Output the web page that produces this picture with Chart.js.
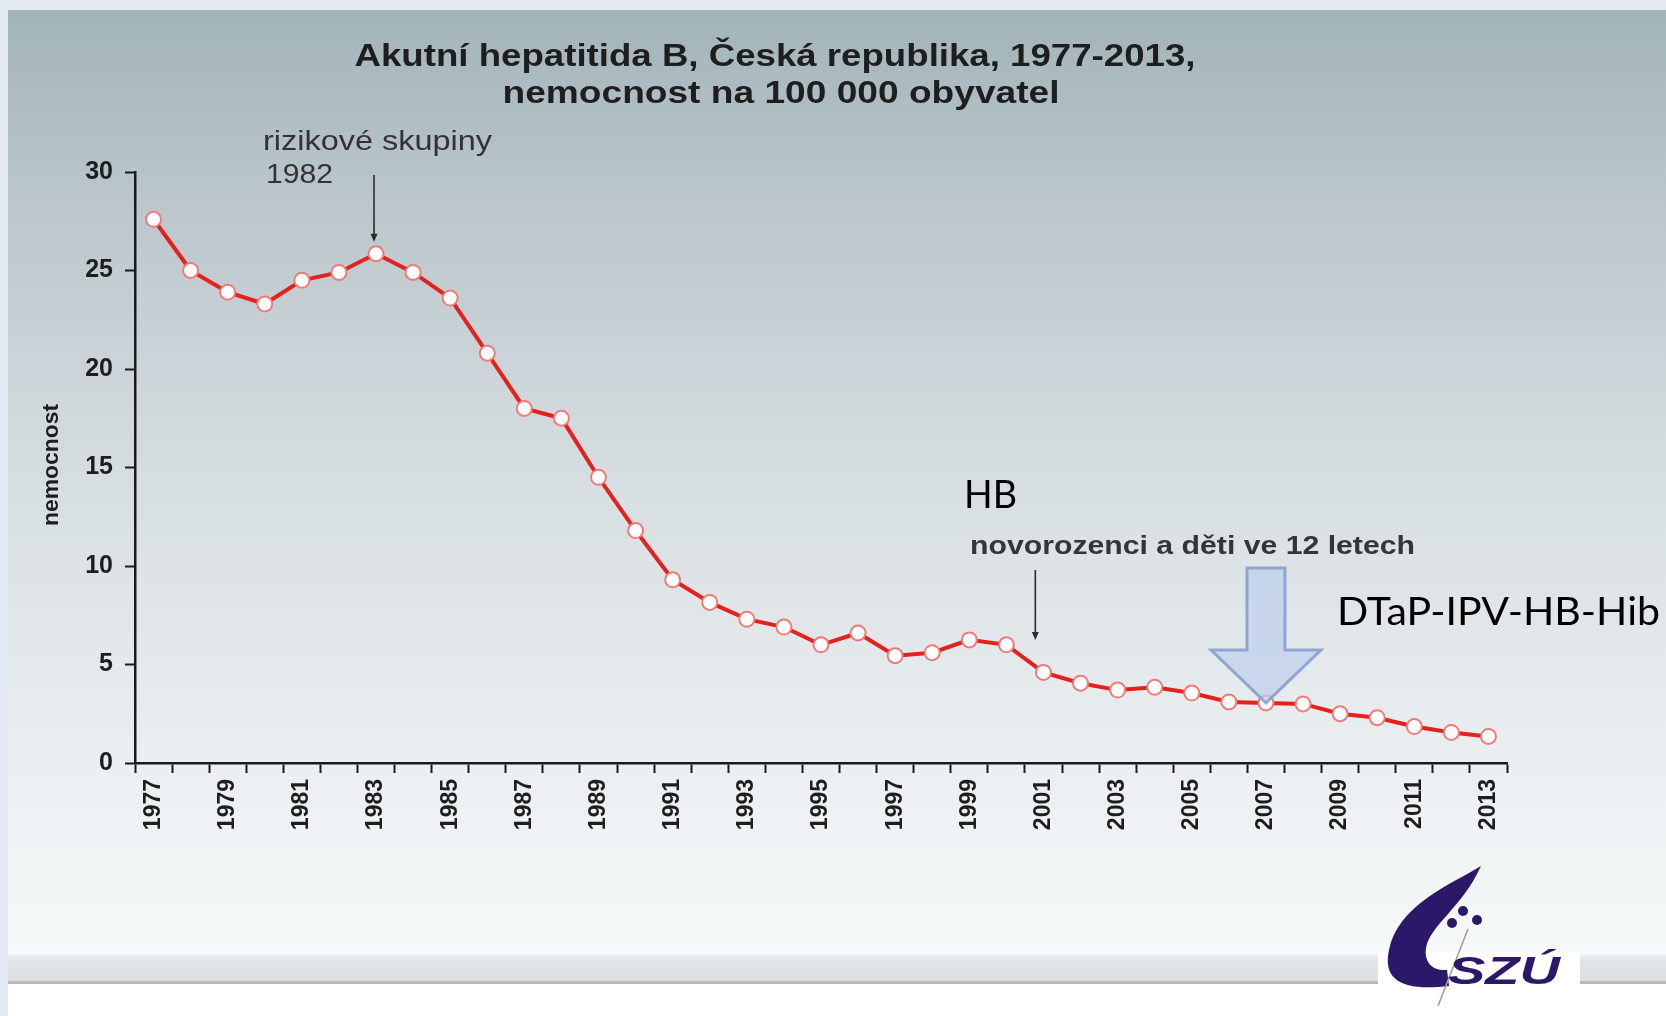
<!DOCTYPE html>
<html>
<head>
<meta charset="utf-8">
<script src="https://cdn.jsdelivr.net/npm/chart.js@4.4.0/dist/chart.umd.min.js"></script>
<style>
    html, body { margin: 0; padding: 0; background: #e3eaf3; }
    #wrap { width: 1666px; height: 1016px; position: relative; }
</style>
</head>
<body>
<div id="wrap"><canvas id="chart" width="1666" height="1016"></canvas></div>
<script>
// Data
const years = ['1977', '1978', '1979', '1980', '1981', '1982', '1983', '1984', '1985', '1986',
               '1987', '1988', '1989', '1990', '1991', '1992', '1993', '1994', '1995', '1996',
               '1997', '1998', '1999', '2000', '2001', '2002', '2003', '2004', '2005', '2006',
               '2007', '2008', '2009', '2010', '2011', '2012', '2013'];
const incidence = [27.6, 25.0, 23.9, 23.3, 24.5, 24.9, 25.85, 24.9, 23.6, 20.8,
                   18.0, 17.5, 14.5, 11.8, 9.3, 8.15, 7.3, 6.9, 6.0, 6.6,
                   5.45, 5.6, 6.25, 6.0, 4.6, 4.05, 3.7, 3.85, 3.55, 3.1,
                   3.05, 3.0, 2.5, 2.3, 1.85, 1.55, 1.35];
const yMin = 0;
const yMax = 30;
const yStep = 5;

const titleLines = ['Akutní hepatitida B, Česká republika, 1977-2013,', 'nemocnost na 100 000 obyvatel'];
const yTitle = 'nemocnost';
const noteRisk = ['rizikové skupiny', '1982'];
const noteNewborn = 'novorozenci a děti ve 12 letech';
const noteHB = 'HB';
const noteHexa = 'DTaP-IPV-HB-Hib';

const ARIAL = '"Liberation Sans", Arial, sans-serif';
const CALIBRI = 'Lato, "Open Sans", sans-serif';

// draw text, optionally stretched to a given width
function drawText(ctx, text, x, y, font, color, width, align) {
    ctx.save();
    ctx.font = font;
    ctx.fillStyle = color;
    ctx.textBaseline = 'alphabetic';
    ctx.textAlign = align || 'left';
    const w = ctx.measureText(text).width;
    ctx.translate(x, y);
    ctx.scale(width ? width / w : 1, 1);
    ctx.fillText(text, 0, 0);
    ctx.restore();
}

function thinArrow(ctx, x, y1, y2) {
    ctx.save();
    ctx.strokeStyle = '#2b2b2b';
    ctx.fillStyle = '#2b2b2b';
    ctx.lineWidth = 1.6;
    ctx.beginPath();
    ctx.moveTo(x, y1);
    ctx.lineTo(x, y2 - 6);
    ctx.stroke();
    ctx.beginPath();
    ctx.moveTo(x - 3.5, y2 - 8);
    ctx.lineTo(x + 3.5, y2 - 8);
    ctx.lineTo(x, y2);
    ctx.closePath();
    ctx.fill();
    ctx.restore();
}

const backdrop = {
    id: 'backdrop',
    beforeDraw(chart) {
        const ctx = chart.ctx;
        ctx.save();
        ctx.fillStyle = '#e3eaf3';
        ctx.fillRect(0, 0, 1666, 1016);
        const g = ctx.createLinearGradient(0, 10, 0, 955);
        g.addColorStop(0, '#a2b4b9');
        g.addColorStop(0.2, '#bac6cb');
        g.addColorStop(0.5, '#d7dee1');
        g.addColorStop(0.8, '#ebeff1');
        g.addColorStop(1, '#f6f9f9');
        ctx.fillStyle = g;
        ctx.fillRect(8, 10, 1658, 945);
        // footer band
        const b = ctx.createLinearGradient(0, 955, 0, 984);
        b.addColorStop(0, '#e9ecee');
        b.addColorStop(0.3, '#e1e4e7');
        b.addColorStop(1, '#dcdfe2');
        ctx.fillStyle = b;
        ctx.fillRect(8, 955, 1658, 28);
        ctx.fillStyle = '#b7babd';
        ctx.fillRect(8, 981, 1658, 3);
        ctx.fillStyle = '#ffffff';
        ctx.fillRect(8, 984, 1658, 32);
        ctx.restore();
    }
};

const notes = {
    id: 'notes',
    afterDraw(chart) {
        const ctx = chart.ctx;
        const xs = chart.scales.x;
        const ys = chart.scales.y;

        // title
        drawText(ctx, titleLines[0], 775, 66, 'bold 31px ' + ARIAL, '#1e1e1e', 841, 'center');
        drawText(ctx, titleLines[1], 781, 103, 'bold 31px ' + ARIAL, '#1e1e1e', 557, 'center');

        // y axis title
        ctx.save();
        ctx.translate(58, 465);
        ctx.rotate(-Math.PI / 2);
        drawText(ctx, yTitle, 0, 0, 'bold 22px ' + ARIAL, '#1e1e1e', 122, 'center');
        ctx.restore();

        // risk groups 1982
        drawText(ctx, noteRisk[0], 263, 150, '28px ' + ARIAL, '#333333', 229);
        drawText(ctx, noteRisk[1], 266, 183, '28px ' + ARIAL, '#333333', 67);
        const x83 = xs.getPixelForValue(6);
        thinArrow(ctx, x83 - 2, 175, ys.getPixelForValue(incidence[6]) - 12);

        // newborns
        drawText(ctx, noteHB, 964, 508, '38px ' + CALIBRI, '#000000', 53);
        drawText(ctx, noteNewborn, 970, 554, 'bold 25px ' + ARIAL, '#353535', 445);
        const xNb = xs.getPixelForValue(23) * 0.22 + xs.getPixelForValue(24) * 0.78;
        thinArrow(ctx, xNb, 570, 640);

        // hexavaccine block arrow pointing at 2007
        const cx = xs.getPixelForValue(30);
        const tipY = ys.getPixelForValue(incidence[30]);
        ctx.save();
        ctx.beginPath();
        ctx.moveTo(cx - 19, 568);
        ctx.lineTo(cx + 19, 568);
        ctx.lineTo(cx + 19, 650);
        ctx.lineTo(cx + 55, 650);
        ctx.lineTo(cx, tipY);
        ctx.lineTo(cx - 55, 650);
        ctx.lineTo(cx - 19, 650);
        ctx.closePath();
        ctx.fillStyle = 'rgba(190, 207, 236, 0.72)';
        ctx.fill();
        ctx.lineWidth = 3;
        ctx.strokeStyle = 'rgba(130, 156, 204, 0.85)';
        ctx.stroke();
        ctx.restore();
        drawText(ctx, noteHexa, 1337, 625, '38px ' + CALIBRI, '#000000', 323);

        // SZU logo
        ctx.save();
        ctx.fillStyle = '#ffffff';
        ctx.fillRect(1378, 952, 202, 34);
        ctx.fillStyle = '#2c1868';
        ctx.beginPath();
        ctx.moveTo(1481, 866);
        ctx.bezierCurveTo(1450, 885, 1398, 905, 1389, 950);
        ctx.bezierCurveTo(1382, 982, 1405, 991, 1449, 986);
        ctx.lineTo(1447, 970);
        ctx.bezierCurveTo(1432, 971, 1424, 962, 1426, 948);
        ctx.bezierCurveTo(1430, 925, 1462, 908, 1481, 866);
        ctx.closePath();
        ctx.fill();
        [[1463, 911], [1452, 923], [1477, 920]].forEach(p => {
            ctx.beginPath();
            ctx.arc(p[0], p[1], 5, 0, Math.PI * 2);
            ctx.fill();
        });
        ctx.strokeStyle = '#a0a0a0';
        ctx.lineWidth = 1.6;
        ctx.beginPath();
        ctx.moveTo(1468, 929);
        ctx.lineTo(1438, 1006);
        ctx.stroke();
        ctx.restore();
        drawText(ctx, 'SZÚ', 1448, 984, 'italic bold 38px ' + ARIAL, '#2c1868', 112);
    }
};

new Chart(document.getElementById('chart'), {
    type: 'line',
    data: {
        labels: years,
        datasets: [{
            data: incidence,
            borderColor: '#e5211e',
            borderWidth: 4,
            pointRadius: 7.5,
            pointBorderWidth: 2,
            pointBackgroundColor: '#ffffff',
            pointBorderColor: '#f07a78',
            tension: 0
        }]
    },
    options: {
        responsive: false,
        animation: false,
        layout: { padding: { left: 0, top: 172, right: 159, bottom: 0 } },
        plugins: {
            legend: { display: false },
            tooltip: { enabled: false }
        },
        scales: {
            x: {
                offset: true,
                afterFit: function(scale) { scale.height = 253; },
                border: { display: true, color: '#1a1a1a', width: 2.5 },
                grid: {
                    offset: true,
                    drawOnChartArea: false,
                    drawTicks: true,
                    tickLength: 10,
                    tickWidth: 2,
                    tickColor: '#1a1a1a'
                },
                ticks: {
                    autoSkip: false,
                    minRotation: 90,
                    maxRotation: 90,
                    padding: 6,
                    color: '#1e1e1e',
                    font: { family: ARIAL, size: 23, weight: 'bold' },
                    callback: function(value, index) {
                        return index % 2 === 0 ? years[index] : '';
                    }
                }
            },
            y: {
                min: yMin,
                max: yMax,
                afterFit: function(scale) { scale.width = 135; },
                border: { display: true, color: '#1a1a1a', width: 2.5 },
                grid: {
                    drawOnChartArea: false,
                    drawTicks: true,
                    tickLength: 10,
                    tickWidth: 2,
                    tickColor: '#1a1a1a'
                },
                ticks: {
                    stepSize: yStep,
                    padding: 12,
                    color: '#1e1e1e',
                    font: { family: ARIAL, size: 25, weight: 'bold' }
                }
            }
        }
    },
    plugins: [backdrop, notes]
});
</script>
</body>
</html>
